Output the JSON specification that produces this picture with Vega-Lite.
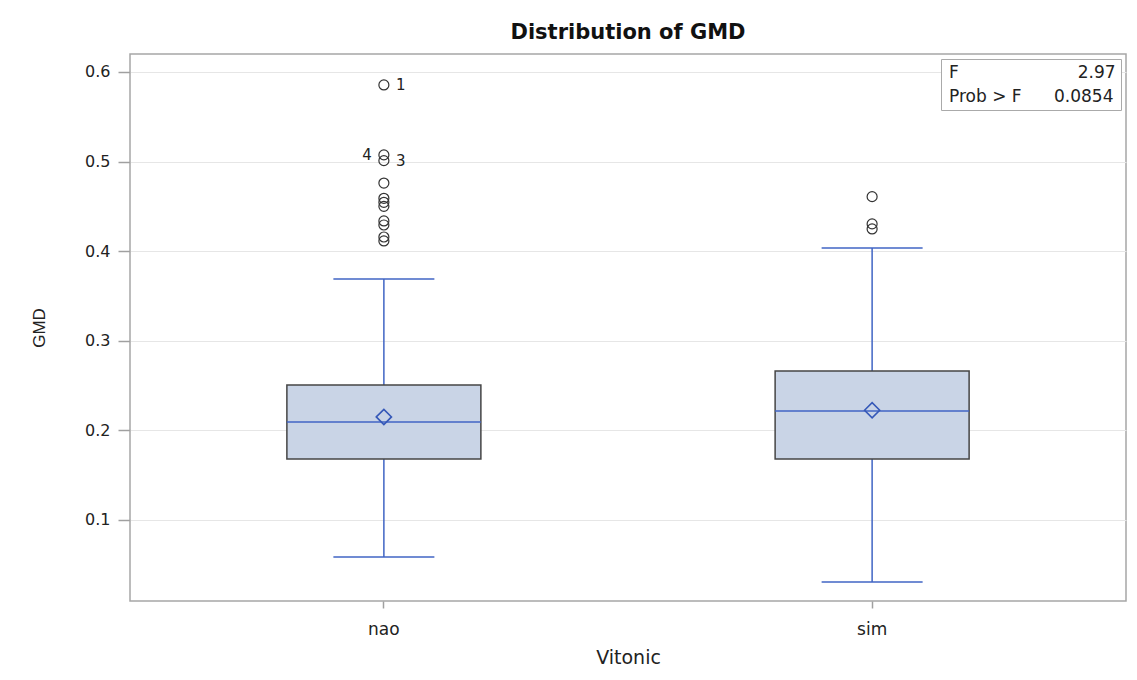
{
  "$schema": "https://vega.github.io/schema/vega-lite/v6.json",
  "width": 996,
  "height": 547,
  "autosize": {"type": "none"},
  "padding": {"left": 130, "top": 54, "right": 11, "bottom": 79},
  "background": "white",
  "title": {"text": "Distribution of GMD", "font": "DejaVu Sans", "fontSize": 21, "fontWeight": "bold", "color": "#111111", "offset": 11, "anchor": "middle"},
  "datasets": {
    "summary": [
      {"Vitonic": "nao", "lo": 0.0587, "q1": 0.168, "median": 0.2094, "q3": 0.2507, "hi": 0.369, "mean": 0.215},
      {"Vitonic": "sim", "lo": 0.0308, "q1": 0.168, "median": 0.2217, "q3": 0.2663, "hi": 0.4036, "mean": 0.2225}
    ],
    "outliers": [
      {"Vitonic": "nao", "GMD": 0.5855, "label": "1", "side": "right"},
      {"Vitonic": "nao", "GMD": 0.5074, "label": "4", "side": "left"},
      {"Vitonic": "nao", "GMD": 0.5010, "label": "3", "side": "right"},
      {"Vitonic": "nao", "GMD": 0.476, "label": "", "side": "none"},
      {"Vitonic": "nao", "GMD": 0.459, "label": "", "side": "none"},
      {"Vitonic": "nao", "GMD": 0.4545, "label": "", "side": "none"},
      {"Vitonic": "nao", "GMD": 0.450, "label": "", "side": "none"},
      {"Vitonic": "nao", "GMD": 0.4337, "label": "", "side": "none"},
      {"Vitonic": "nao", "GMD": 0.4292, "label": "", "side": "none"},
      {"Vitonic": "nao", "GMD": 0.4158, "label": "", "side": "none"},
      {"Vitonic": "nao", "GMD": 0.4114, "label": "", "side": "none"},
      {"Vitonic": "sim", "GMD": 0.4608, "label": "", "side": "none"},
      {"Vitonic": "sim", "GMD": 0.4304, "label": "", "side": "none"},
      {"Vitonic": "sim", "GMD": 0.4248, "label": "", "side": "none"}
    ],
    "stats": [
      {"Vitonic": "sim", "stat": "F", "value": "2.97"},
      {"Vitonic": "sim", "stat": "Prob > F", "value": "0.0854"}
    ]
  },
  "encoding": {
    "x": {
      "field": "Vitonic",
      "type": "nominal",
      "title": "Vitonic",
      "scale": {"type": "band", "domain": ["nao", "sim"], "paddingInner": 0, "paddingOuter": 0.02}
    }
  },
  "layer": [
    {
      "data": {"name": "summary"},
      "mark": {"type": "rule", "color": "#4065c4", "strokeWidth": 1.5},
      "encoding": {
        "y": {"field": "lo", "type": "quantitative", "title": "GMD",
              "scale": {"domain": [0.0096, 0.62], "nice": false, "zero": false},
              "axis": {"values": [0.1, 0.2, 0.3, 0.4, 0.5, 0.6], "format": ".1f"}},
        "y2": {"field": "hi"}
      }
    },
    {
      "data": {"name": "summary"},
      "mark": {"type": "bar", "size": 194, "fill": "#c9d4e6", "stroke": "#454545", "strokeWidth": 1.5},
      "encoding": {
        "y": {"field": "q1", "type": "quantitative", "title": "GMD"},
        "y2": {"field": "q3"}
      }
    },
    {
      "data": {"name": "summary"},
      "mark": {"type": "tick", "size": 194, "thickness": 1.5, "color": "#4065c4", "opacity": 1},
      "encoding": {"y": {"field": "median", "type": "quantitative", "title": "GMD"}}
    },
    {
      "data": {"name": "summary"},
      "mark": {"type": "tick", "size": 101, "thickness": 1.5, "color": "#4065c4", "opacity": 1},
      "encoding": {"y": {"field": "lo", "type": "quantitative", "title": "GMD"}}
    },
    {
      "data": {"name": "summary"},
      "mark": {"type": "tick", "size": 101, "thickness": 1.5, "color": "#4065c4", "opacity": 1},
      "encoding": {"y": {"field": "hi", "type": "quantitative", "title": "GMD"}}
    },
    {
      "data": {"name": "summary"},
      "mark": {"type": "point", "shape": "diamond", "filled": false, "size": 230, "stroke": "#3558b8", "strokeWidth": 1.6, "opacity": 1},
      "encoding": {"y": {"field": "mean", "type": "quantitative", "title": "GMD"}}
    },
    {
      "data": {"name": "outliers"},
      "mark": {"type": "point", "shape": "circle", "filled": false, "size": 100, "stroke": "#333333", "strokeWidth": 1.2, "opacity": 1},
      "encoding": {"y": {"field": "GMD", "type": "quantitative", "title": "GMD"}}
    },
    {
      "data": {"name": "outliers"},
      "transform": [{"filter": "datum.side == 'right'"}],
      "mark": {"type": "text", "align": "left", "baseline": "middle", "dx": 12, "fontSize": 15, "font": "DejaVu Sans", "color": "#222222"},
      "encoding": {"y": {"field": "GMD", "type": "quantitative", "title": "GMD"}, "text": {"field": "label"}}
    },
    {
      "data": {"name": "outliers"},
      "transform": [{"filter": "datum.side == 'left'"}],
      "mark": {"type": "text", "align": "right", "baseline": "middle", "dx": -12, "fontSize": 15, "font": "DejaVu Sans", "color": "#222222"},
      "encoding": {"y": {"field": "GMD", "type": "quantitative", "title": "GMD"}, "text": {"field": "label"}}
    },
    {
      "data": {"name": "stats"},
      "mark": {"type": "point", "opacity": 0},
      "encoding": {
        "shape": {
          "field": "stat",
          "type": "nominal",
          "legend": {
            "title": null,
            "labelExpr": "datum.label == 'F' ? 'F\u00a0\u00a0\u00a0\u00a0\u00a0\u00a0\u00a0\u00a0\u00a0\u00a0\u00a0\u00a0\u00a0\u00a0\u00a0\u00a0\u00a0\u00a0\u00a0\u00a0\u00a0\u00a02.97' : 'Prob > F\u00a0\u00a0\u00a0\u00a0\u00a0\u00a00.0854'"
          }
        }
      }
    }
  ],
  "config": {
    "font": "DejaVu Sans",
    "view": {"stroke": "#a6a6a6", "strokeWidth": 1.5},
    "axis": {"domain": false, "tickColor": "#a0a0a0", "tickWidth": 1.5, "labelColor": "#222222", "titleColor": "#222222", "labelFont": "DejaVu Sans", "titleFont": "DejaVu Sans", "titleFontWeight": "normal"},
    "axisY": {"grid": true, "gridColor": "#e6e6e6", "gridWidth": 1, "tickSize": 12, "labelFontSize": 16, "labelPadding": 8, "titleFontSize": 17, "titleFont": "Liberation Sans Narrow, Liberation Sans", "titlePadding": 36},
    "axisX": {"grid": false, "tickSize": 7, "labelFontSize": 17, "labelAngle": 0, "labelPadding": 13, "titleFontSize": 19, "titlePadding": 11},
    "legend": {"orient": "top-right", "offset": 5, "strokeColor": "#aaaaaa", "fillColor": "white", "padding": 5, "symbolSize": 0, "symbolOpacity": 0, "symbolStrokeWidth": 0, "labelOffset": -14, "labelFontSize": 17, "labelFont": "DejaVu Sans", "labelColor": "#222222", "rowPadding": 6, "labelLimit": 400}
  }
}
